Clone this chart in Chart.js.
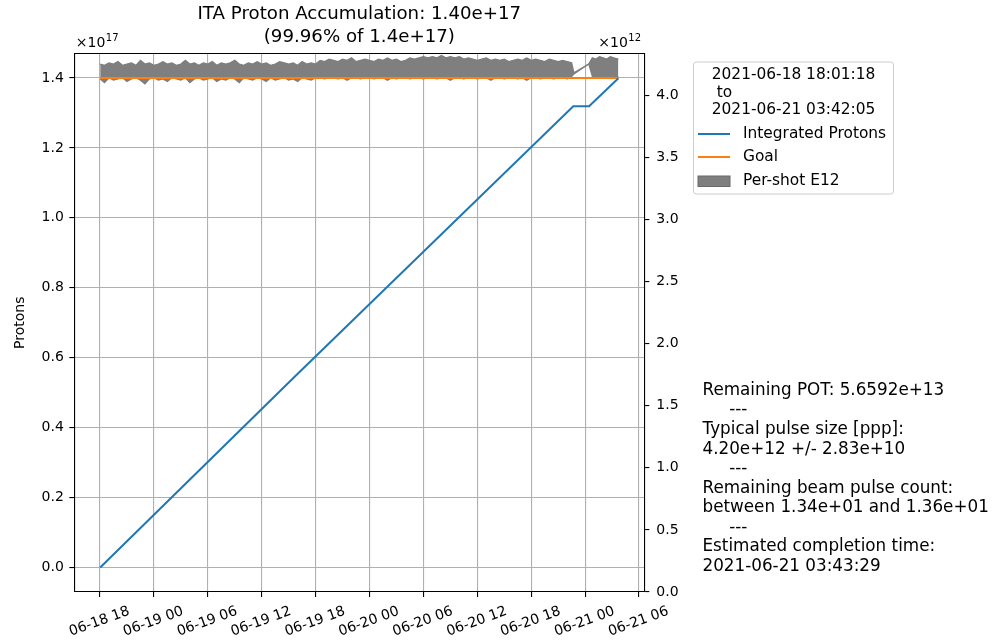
<!DOCTYPE html>
<html>
<head>
<meta charset="utf-8">
<script src="https://cdn.jsdelivr.net/npm/chart.js@4.4.1/dist/chart.umd.min.js"></script>
<style>
  html, body { margin: 0; padding: 0; background: #fff; }
  canvas { display: block; }
</style>
</head>
<body>
<canvas id="c" width="998" height="642"></canvas>
<script>
const FONT = "'DejaVu Sans', 'Noto Sans', sans-serif";

// Time is measured in hours since 2021-06-18 00:00
const xTickHours = [18, 24, 30, 36, 42, 48, 54, 60, 66, 72, 78];
const leftTicks = [0.0, 0.2, 0.4, 0.6, 0.8, 1.0, 1.2, 1.4];
const rightTicks = [0.0, 0.5, 1.0, 1.5, 2.0, 2.5, 3.0, 3.5, 4.0];

// Integrated protons (x1e17)
const protonHours = [18.02, 39.32, 70.68, 72.44, 75.70];
const protonValues = [0.0, 0.537, 1.319, 1.319, 1.3994];

// Goal (x1e17)
const goalHours = [18.02, 75.70];
const goalValues = [1.4, 1.4];

// Per-shot intensity band (x1e12): upper and lower envelope
const shotHours = [
  18.02, 18.5, 19, 19.5, 20, 20.5, 21, 21.5, 22, 22.5, 23, 23.5, 24, 24.5, 25, 25.5,
  26, 26.5, 27, 27.5, 28, 28.5, 29, 29.5, 30, 30.5, 31, 31.5, 32, 32.5, 33, 33.5,
  34, 34.5, 35, 35.5, 36, 36.5, 37, 37.5, 38, 38.5, 39, 39.5, 40, 40.5, 41, 41.5, 42,
  42.5, 43, 43.5, 44, 44.5, 45, 45.5, 46, 46.5, 47, 47.5, 48, 48.5, 49, 49.5, 50,
  50.5, 51, 51.5, 52, 52.5, 53, 53.5, 54,
  54.5, 55, 55.5, 56, 56.5, 57, 57.5, 58, 58.5, 59,
  59.5, 60, 60.5, 61, 61.5, 62, 62.5, 63, 63.5, 64, 64.5, 65, 65.5, 66, 66.5, 67,
  67.5, 68, 68.5, 69, 69.5, 70, 70.5,
  70.75, 72.4,
  72.8, 73.2, 73.6, 74, 74.4, 74.8, 75.2, 75.7
];
const shotUpper = [
  4.25, 4.24, 4.26, 4.25, 4.27, 4.24, 4.25, 4.26, 4.24, 4.28, 4.25, 4.26, 4.24, 4.25, 4.27, 4.25,
  4.26, 4.24, 4.25, 4.28, 4.25, 4.26, 4.24, 4.26, 4.25, 4.27, 4.24, 4.26, 4.25, 4.26, 4.28, 4.25,
  4.24, 4.26, 4.25, 4.27, 4.25, 4.26, 4.24, 4.25, 4.27, 4.26, 4.25, 4.26, 4.24, 4.27, 4.25, 4.26, 4.25,
  4.28, 4.27, 4.29, 4.28, 4.27, 4.29, 4.28, 4.30, 4.27, 4.28, 4.29, 4.28, 4.27, 4.29, 4.28, 4.30,
  4.28, 4.29, 4.27, 4.28, 4.30, 4.29, 4.30, 4.31,
  4.30, 4.31, 4.30, 4.32, 4.30, 4.31, 4.30, 4.31, 4.29, 4.30,
  4.29, 4.28, 4.29, 4.30, 4.28, 4.29, 4.28, 4.29, 4.27, 4.28, 4.29, 4.28, 4.30, 4.28, 4.29, 4.28,
  4.27, 4.29, 4.28, 4.27, 4.28, 4.27, 4.26,
  4.18, 4.25,
  4.30, 4.29, 4.31, 4.30, 4.29, 4.31, 4.30, 4.29
];
const shotLower = [
  4.13, 4.10, 4.14, 4.12, 4.13, 4.14, 4.11, 4.13, 4.14, 4.12, 4.09, 4.13, 4.14, 4.12, 4.13, 4.11,
  4.14, 4.13, 4.12, 4.14, 4.10, 4.13, 4.14, 4.12, 4.13, 4.14, 4.11, 4.13, 4.12, 4.14, 4.13, 4.10,
  4.14, 4.13, 4.12, 4.14, 4.13, 4.11, 4.14, 4.12, 4.13, 4.14, 4.12, 4.13, 4.11, 4.14, 4.13, 4.12, 4.14,
  4.14, 4.13, 4.14, 4.14, 4.13, 4.14, 4.12, 4.14, 4.14, 4.13, 4.14, 4.14, 4.13, 4.14, 4.14, 4.12,
  4.14, 4.13, 4.14, 4.14, 4.13, 4.14, 4.14, 4.13,
  4.14, 4.14, 4.13, 4.14, 4.14, 4.12, 4.14, 4.14, 4.13, 4.14,
  4.14, 4.13, 4.14, 4.14, 4.12, 4.14, 4.14, 4.13, 4.14, 4.14, 4.13, 4.14, 4.12, 4.14, 4.14, 4.13,
  4.14, 4.14, 4.13, 4.14, 4.14, 4.13, 4.15,
  4.17, 4.25,
  4.15, 4.15, 4.14, 4.15, 4.15, 4.14, 4.15, 4.15
];

const legendTitle = ['2021-06-18 18:01:18', ' to', '2021-06-21 03:42:05'];
const infoLines = [
  'Remaining POT: 5.6592e+13',
  '     ---',
  'Typical pulse size [ppp]:',
  '4.20e+12 +/- 2.83e+10',
  '     ---',
  'Remaining beam pulse count:',
  'between 1.34e+01 and 1.36e+01',
  '     ---',
  'Estimated completion time:',
  '2021-06-21 03:43:29'
];

const pts = (xs, ys) => xs.map((x, i) => ({ x: x, y: ys[i] }));
const pad2 = n => (n < 10 ? '0' : '') + n;
const fmtHour = v => '06-' + pad2(18 + Math.floor(v / 24)) + ' ' + pad2(v % 24);

// Frame, offset labels, legend and the summary text block
const decor = {
  id: 'decor',
  afterDraw(chart) {
    const ctx = chart.ctx;
    const a = chart.chartArea;
    ctx.save();
    // top spine
    ctx.strokeStyle = '#000';
    ctx.lineWidth = 1.1;
    ctx.beginPath();
    ctx.moveTo(a.left, a.top);
    ctx.lineTo(a.right, a.top);
    ctx.stroke();

    // axis multipliers
    const mult = (x, exp) => {
      ctx.fillStyle = '#000';
      ctx.textBaseline = 'alphabetic';
      ctx.textAlign = 'left';
      ctx.font = '14px ' + FONT;
      ctx.fillText('\u00d710', x, 47);
      const w = ctx.measureText('\u00d710').width;
      ctx.font = '10px ' + FONT;
      ctx.fillText(exp, x + w + 0.5, 41);
    };
    mult(a.left + 1.5, '17');
    mult(a.right - 46, '12');

    // legend
    const bx = 693.5, by = 62, bw = 200, bh = 132, r = 3;
    ctx.fillStyle = 'rgba(255,255,255,0.85)';
    ctx.strokeStyle = '#cccccc';
    ctx.lineWidth = 1;
    ctx.beginPath();
    ctx.roundRect(bx, by, bw, bh, r);
    ctx.fill();
    ctx.stroke();

    ctx.font = '15.4px ' + FONT;
    ctx.fillStyle = '#000';
    ctx.textBaseline = 'middle';
    ctx.textAlign = 'left';
    const tw = Math.max(...legendTitle.map(t => ctx.measureText(t).width));
    const tx = bx + bw / 2 - tw / 2;
    legendTitle.forEach((t, i) => ctx.fillText(t, tx, 75 + i * 17.6));

    const ds = chart.data.datasets;
    const rows = [134, 157, 181];
    [0, 1, 2].forEach((k, i) => {
      const y = rows[i];
      const d = ds[k];
      if (k === 2) {
        ctx.fillStyle = d.backgroundColor;
        ctx.strokeStyle = '#6a6a6a';
        ctx.lineWidth = 1;
        ctx.fillRect(698, y - 5, 32, 10.5);
        ctx.strokeRect(698, y - 5, 32, 10.5);
      } else {
        ctx.strokeStyle = d.borderColor;
        ctx.lineWidth = 2;
        ctx.beginPath();
        ctx.moveTo(698, y);
        ctx.lineTo(730, y);
        ctx.stroke();
      }
      ctx.fillStyle = '#000';
      ctx.fillText(d.label, 743, y);
    });

    // summary text
    ctx.font = '16.8px ' + FONT;
    ctx.fillStyle = '#000';
    ctx.textBaseline = 'middle';
    infoLines.forEach((t, i) => ctx.fillText(t, 702.5, 390.5 + i * 19.55));
    ctx.restore();
  }
};

new Chart(document.getElementById('c'), {
  type: 'line',
  data: {
    datasets: [
      {
        label: 'Integrated Protons',
        data: pts(protonHours, protonValues),
        borderColor: '#1f77b4',
        borderWidth: 2,
        pointRadius: 0,
        tension: 0,
        yAxisID: 'y'
      },
      {
        label: 'Goal',
        data: pts(goalHours, goalValues),
        borderColor: '#ff7f0e',
        borderWidth: 2,
        pointRadius: 0,
        yAxisID: 'y'
      },
      {
        label: 'Per-shot E12',
        data: pts(shotHours, shotUpper),
        borderColor: '#7f7f7f',
        backgroundColor: '#7f7f7f',
        borderWidth: 1.2,
        pointRadius: 0,
        tension: 0,
        fill: '+1',
        yAxisID: 'y2'
      },
      {
        label: 'Per-shot E12 (low)',
        data: pts(shotHours, shotLower),
        borderColor: '#7f7f7f',
        borderWidth: 1.2,
        pointRadius: 0,
        tension: 0,
        fill: false,
        yAxisID: 'y2'
      }
    ]
  },
  options: {
    responsive: false,
    animation: false,
    devicePixelRatio: 1,
    layout: { padding: { left: 0, right: 313.7, top: 0, bottom: 0 } },
    plugins: {
      legend: { display: false },
      tooltip: { enabled: false },
      title: {
        display: true,
        fullSize: false,
        text: ['ITA Proton Accumulation: 1.40e+17', '(99.96% of 1.4e+17)'],
        color: '#000',
        font: { family: FONT, size: 18.2, weight: 'normal', lineHeight: 1.25 },
        padding: { top: 3, bottom: 5 }
      }
    },
    scales: {
      x: {
        type: 'linear',
        min: 15.138,
        max: 78.585,
        afterBuildTicks: s => { s.ticks = xTickHours.map(v => ({ value: v })); },
        afterFit: s => { s.height = 50; },
        ticks: {
          autoSkip: false,
          minRotation: 20,
          maxRotation: 20,
          labelOffset: 29,
          padding: 6,
          color: '#000',
          font: { family: FONT, size: 14 },
          callback: v => fmtHour(v)
        },
        grid: { color: '#b0b0b0', lineWidth: 1.1, tickColor: '#000', tickLength: 5 },
        border: { color: '#000', width: 1.1 }
      },
      y: {
        position: 'left',
        min: -0.07,
        max: 1.47,
        afterBuildTicks: s => { s.ticks = leftTicks.map(v => ({ value: v })); },
        afterFit: s => { s.width = 74.3; },
        ticks: {
          color: '#000',
          padding: 5.5,
          font: { family: FONT, size: 14 },
          callback: v => v.toFixed(1)
        },
        title: {
          display: true,
          text: 'Protons',
          color: '#000',
          font: { family: FONT, size: 14 },
          padding: { top: 12, bottom: 0 }
        },
        grid: { color: '#b0b0b0', lineWidth: 1.1, tickColor: '#000', tickLength: 5 },
        border: { color: '#000', width: 1.1 }
      },
      y2: {
        position: 'right',
        min: 0,
        max: 4.335,
        afterBuildTicks: s => { s.ticks = rightTicks.map(v => ({ value: v })); },
        afterFit: s => { s.width = 40; },
        ticks: {
          color: '#000',
          padding: 7,
          font: { family: FONT, size: 14 },
          callback: v => v.toFixed(1)
        },
        grid: { drawOnChartArea: false, tickColor: '#000', tickLength: 5, lineWidth: 1.1 },
        border: { color: '#000', width: 1.1 }
      }
    }
  },
  plugins: [decor]
});
</script>
</body>
</html>
